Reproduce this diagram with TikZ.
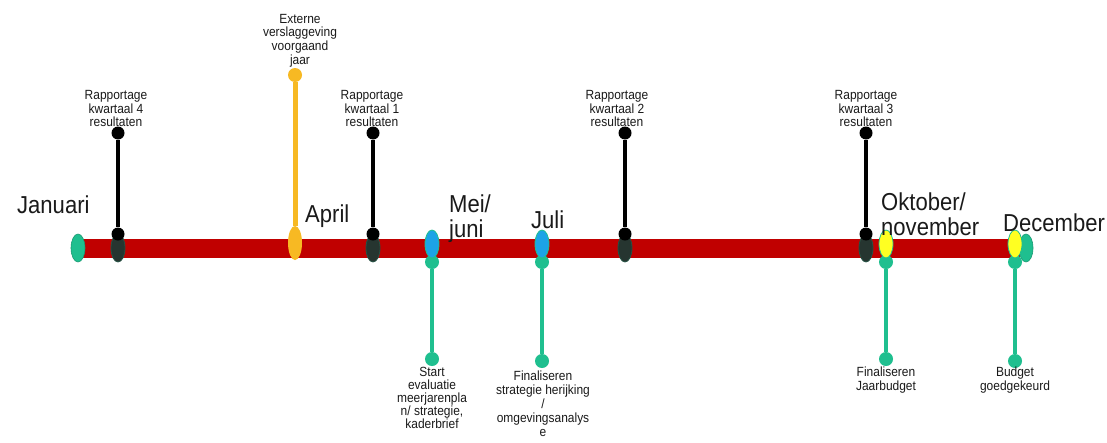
\documentclass[tikz,border=0pt]{standalone}
\usepackage{fontspec}
\setmainfont{Liberation Sans}
\newfontfamily\narrowsans[FakeStretch=0.9]{Liberation Sans}
\usetikzlibrary{shapes.geometric}
\definecolor{barred}{HTML}{C00000}
\definecolor{teal2}{HTML}{1FBF8F}
\definecolor{darkpin}{HTML}{263530}
\definecolor{orangepin}{HTML}{F7B923}
\definecolor{bluepin}{HTML}{1CA3E6}
\definecolor{yellowpin}{HTML}{FFFF22}
\definecolor{textgray}{HTML}{1A1A1A}
\tikzset{
  barell/.style={ellipse, inner sep=0pt, minimum width=14pt, minimum height=28pt},
  darkell/.style={barell, fill=darkpin, draw=darkpin!80!teal2, line width=0.8pt},
  tealell/.style={barell, fill=teal2, draw=teal2!80!black, line width=0.6pt},
  blueell/.style={barell, fill=bluepin, draw=teal2, line width=0.8pt},
  yellowell/.style={barell, fill=yellowpin, draw=teal2, line width=0.8pt},
  orangeell/.style={barell, fill=orangepin, minimum height=34pt},
  blackdot/.style={circle, fill=black, inner sep=0pt, minimum size=13pt},
  orangedot/.style={circle, fill=orangepin, inner sep=0pt, minimum size=14pt},
  tealdot/.style={circle, fill=teal2, inner sep=0pt, minimum size=14pt},
  blackline/.style={line width=4pt, black},
  orangeline/.style={line width=5pt, orangepin},
  tealline/.style={line width=4pt, teal2},
  small/.style={font=\narrowsans\fontsize{13.3}{13.6}\selectfont, text=textgray, align=center, inner sep=1pt},
  month/.style={font=\narrowsans\fontsize{24.5}{25}\selectfont, text=textgray, inner sep=0pt, align=left},
}
\begin{document}
\begin{tikzpicture}[x=1pt,y=-1pt]
\useasboundingbox[fill=white] (0,0) rectangle (1107,442);
% bar
\coordinate (barL) at (80,248);
\coordinate (barR) at (1020,248);
\draw[barred, line width=19pt] (barL) -- (barR);
\node[tealell] (jan) at (78,248) {};
\node[tealell] (dec) at (1026,248) {};

% bottom (teal) pins
\node[tealdot] (s1) at (432,262) {};
\node[tealdot] (e1) at (432,359) {};
\draw[tealline] (s1) -- (e1);
\node[tealdot] (s2) at (542,262) {};
\node[tealdot] (e2) at (542,361) {};
\draw[tealline] (s2) -- (e2);
\node[tealdot] (s3) at (886,262) {};
\node[tealdot] (e3) at (886,359) {};
\draw[tealline] (s3) -- (e3);
\node[tealdot] (s4) at (1015,262) {};
\node[tealdot] (e4) at (1015,361) {};
\draw[tealline] (s4) -- (e4);

\node[blueell] (m1) at (432,244) {};
\node[blueell] (m2) at (542,244) {};
\node[yellowell] (m3) at (886,244) {};
\node[yellowell] (m4) at (1015,244) {};

% top (black) pins
\foreach \n/\x in {q4/118, q1/373, q2/625, q3/866}{
  \node[darkell] (\n b) at (\x,248) {};
  \node[blackdot] (\n t) at (\x,133) {};
  \node[blackdot] (\n m) at (\x,234) {};
  \draw[blackline] (\n t) -- (\n m);
}
% orange pin
\node[orangeell] (ob) at (295,243) {};
\node[orangedot] (ot) at (295,75) {};
\draw[orangeline] (ot) -- (ob);

% labels top
\node[small, anchor=south] (lq4) at (116,128) {Rapportage\\kwartaal 4\\resultaten};
\node[small, anchor=south] (lq1) at (372,128) {Rapportage\\kwartaal 1\\resultaten};
\node[small, anchor=south] (lq2) at (617,128) {Rapportage\\kwartaal 2\\resultaten};
\node[small, anchor=south] (lq3) at (866,128) {Rapportage\\kwartaal 3\\resultaten};
\node[small, anchor=south] (lo) at (300,68) {Externe\\verslaggeving\\voorgaand\\jaar};

% labels bottom
\node[small, anchor=north, font=\narrowsans\fontsize{13.3}{13}\selectfont] (le1) at (432,366) {Start\\evaluatie\\meerjarenpla\\n/ strategie,\\kaderbrief};
\node[small, anchor=north, font=\narrowsans\fontsize{13.3}{13.8}\selectfont] (le2) at (543,370) {Finaliseren\\strategie herijking\\/\\omgevingsanalys\\e};
\node[small, anchor=north] (le3) at (886,366) {Finaliseren\\Jaarbudget};
\node[small, anchor=north] (le4) at (1015,366) {Budget\\goedgekeurd};

% month labels
\node[month, anchor=base west] (mjan) at (17,213) {Januari};
\node[month, anchor=base west] (mapr) at (305,222) {April};
\node[month, anchor=base west] (mmei) at (449,237) {Mei/\\juni};
\node[month, anchor=base west] (mjul) at (531,228) {Juli};
\node[month, anchor=base west] (mokt) at (881,235) {Oktober/\\november};
\node[month, anchor=base west] (mdec) at (1003,231) {December};
\end{tikzpicture}
\end{document}
